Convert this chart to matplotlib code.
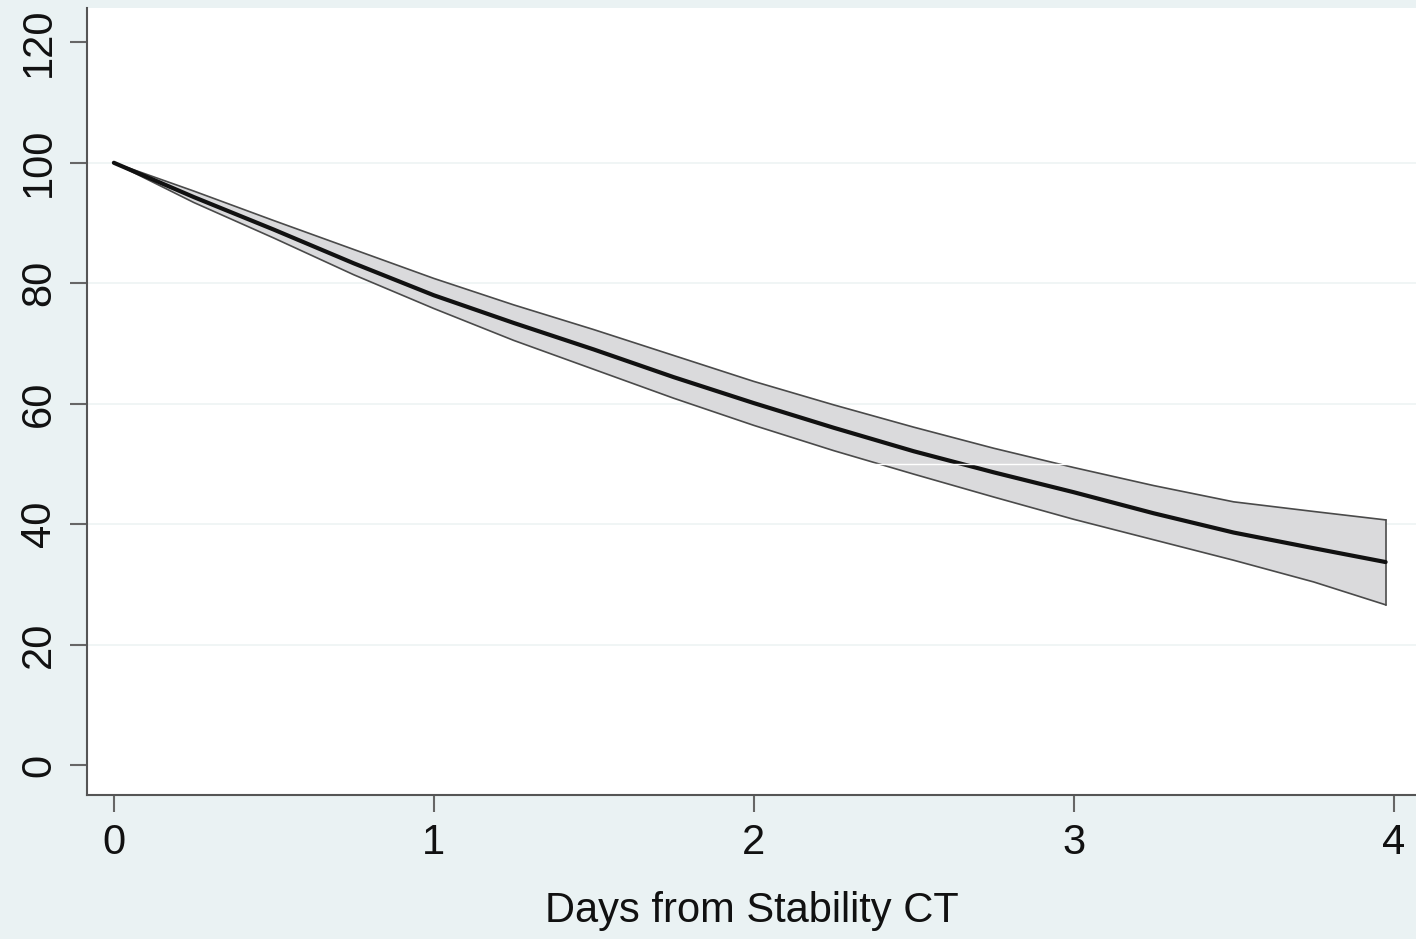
import numpy as np
import matplotlib.pyplot as plt

plt.rcParams['font.family'] = ['Liberation Sans', 'DejaVu Sans']

# values (percent remaining vs days)
days = [0, 0.25, 0.5, 0.75, 1, 1.25, 1.5, 1.75, 2, 2.25, 2.5, 2.75, 3, 3.25, 3.5, 3.75, 3.975]
mean = [100, 94.3, 88.9, 83.3, 78.0, 73.4, 69.0, 64.4, 60.1, 56.0, 52.1, 48.6, 45.3, 41.8, 38.6, 36.0, 33.7]
upper = [100, 95.3, 90.4, 85.6, 80.8, 76.4, 72.3, 68.0, 63.7, 59.8, 56.1, 52.6, 49.4, 46.4, 43.7, 42.1, 40.7]
lower = [100, 93.4, 87.5, 81.4, 75.8, 70.5, 65.7, 60.9, 56.4, 52.2, 48.3, 44.5, 40.8, 37.4, 34.0, 30.4, 26.6]

xticks = [0, 1, 2, 3, 4]
yticks = [0, 20, 40, 60, 80, 100, 120]

bg = '#eaf2f3'
fig = plt.figure(figsize=(14.16, 9.39), dpi=100, facecolor=bg)
ax = fig.add_axes([87 / 1416, 1 - 795 / 939, 1 - 87 / 1416, (795 - 8) / 939])
ax.set_facecolor('white')

for yv in yticks[1:-1]:
    ax.axhline(yv, color='#eef3f4', lw=1.2, zorder=0)

ax.fill_between(days, lower, upper, facecolor='#dadadc', edgecolor='none', zorder=1)
ax.plot(days, upper, color='#4a4a4a', lw=1.2, zorder=2)
ax.plot(days, lower, color='#4a4a4a', lw=1.2, zorder=2)
ax.plot([days[-1], days[-1]], [lower[-1], upper[-1]], color='#4a4a4a', lw=1.2, zorder=2)
ax.plot(days, mean, color='#111111', lw=3, zorder=3, solid_capstyle='round')
ax.axhline(50, xmin=0.01, color='white', lw=1, zorder=4)

ax.set_xlim(-0.084, 4.07)
ax.set_ylim(-4.98, 125.7)
ax.set_xticks(xticks)
ax.set_yticks(yticks)
ax.set_yticklabels([str(v) for v in yticks], rotation=90, va='center')

for s in ['top', 'right']:
    ax.spines[s].set_visible(False)
for s in ['left', 'bottom']:
    ax.spines[s].set_color('#555555')
    ax.spines[s].set_linewidth(1.5)

ax.tick_params(axis='both', direction='out', length=12, width=1.5, color='#666666',
               labelsize=30, labelcolor='#111111', pad=8)
ax.set_xlabel('Days from Stability CT', fontsize=30, color='#111111', labelpad=20)

plt.savefig('out.png', dpi=100, facecolor=bg)
